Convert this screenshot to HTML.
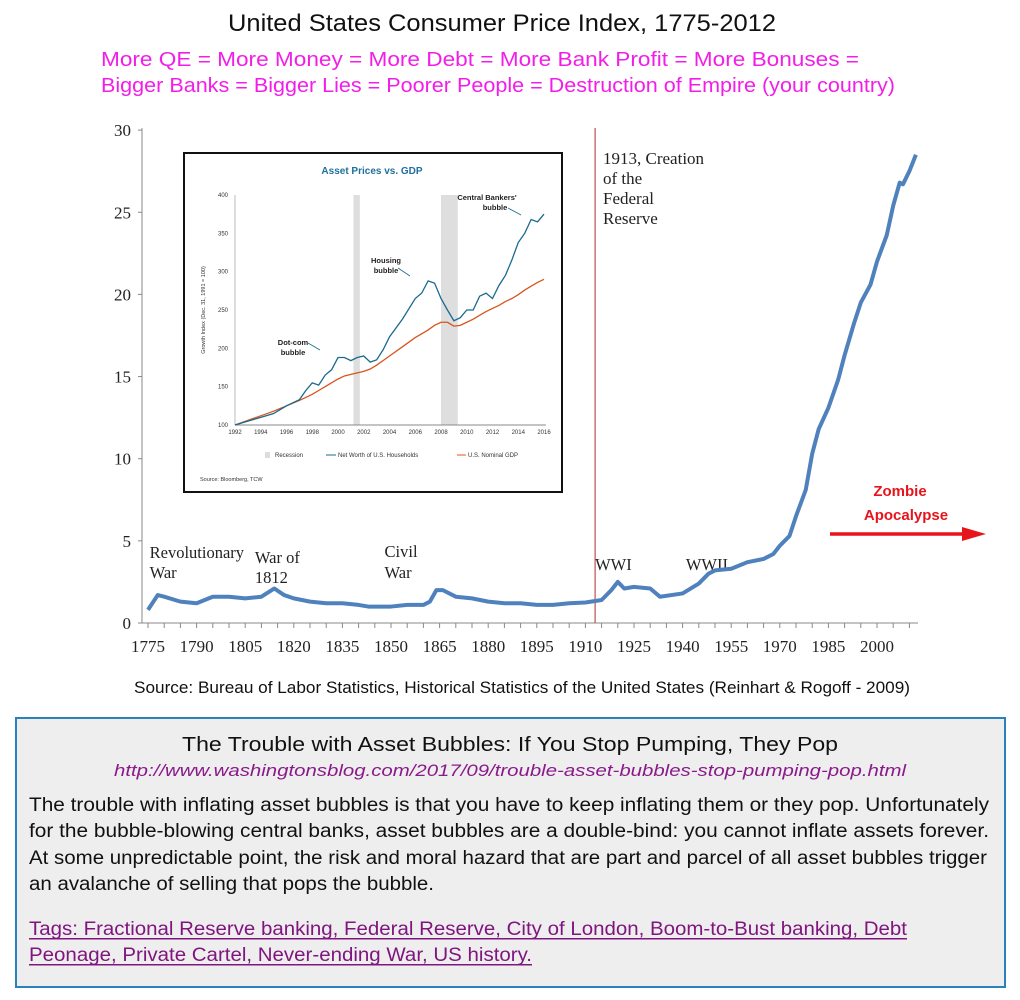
<!DOCTYPE html>
<html><head><meta charset="utf-8"><style>
html,body{margin:0;padding:0;background:#fff;}
svg{display:block;}
</style></head><body>
<svg id="root" width="1020" height="1000" xmlns="http://www.w3.org/2000/svg">
<rect x="0" y="0" width="1020" height="1000" fill="#fff"/>
<text x="502" y="31" text-anchor="middle" font-family="Liberation Sans, sans-serif" font-size="24" fill="#111" textLength="548" lengthAdjust="spacingAndGlyphs">United States Consumer Price Index, 1775-2012</text>
<text x="480" y="66" text-anchor="middle" font-family="Liberation Sans, sans-serif" font-size="20" fill="#f21ee8" textLength="758" lengthAdjust="spacingAndGlyphs">More QE = More Money = More Debt = More Bank Profit = More Bonuses =</text>
<text x="498" y="92" text-anchor="middle" font-family="Liberation Sans, sans-serif" font-size="20" fill="#f21ee8" textLength="794" lengthAdjust="spacingAndGlyphs">Bigger Banks = Bigger Lies = Poorer People = Destruction of Empire (your country)</text>

<g id="main"></g>

<g id="inset"></g>

<text x="522" y="693" text-anchor="middle" font-family="Liberation Sans, sans-serif" font-size="17" fill="#111" textLength="776" lengthAdjust="spacingAndGlyphs">Source: Bureau of Labor Statistics, Historical Statistics of the United States (Reinhart &amp; Rogoff - 2009)</text>

<g>
<rect x="16" y="718" width="989" height="269" fill="#eeeeee" stroke="#2a82bd" stroke-width="2"/>
<text x="510" y="751" text-anchor="middle" font-family="Liberation Sans, sans-serif" font-size="20" fill="#111" textLength="656" lengthAdjust="spacingAndGlyphs">The Trouble with Asset Bubbles: If You Stop Pumping, They Pop</text>
<text x="510" y="776" text-anchor="middle" font-family="Liberation Sans, sans-serif" font-size="17" font-style="italic" fill="#8a1a8a" textLength="792" lengthAdjust="spacingAndGlyphs">http://www.washingtonsblog.com/2017/09/trouble-asset-bubbles-stop-pumping-pop.html</text>
<g font-family="Liberation Sans, sans-serif" font-size="19" fill="#111">
<text x="29" y="811" textLength="960" lengthAdjust="spacingAndGlyphs">The trouble with inflating asset bubbles is that you have to keep inflating them or they pop. Unfortunately</text>
<text x="29" y="837" textLength="960" lengthAdjust="spacingAndGlyphs">for the bubble-blowing central banks, asset bubbles are a double-bind: you cannot inflate assets forever.</text>
<text x="29" y="864" textLength="958" lengthAdjust="spacingAndGlyphs">At some unpredictable point, the risk and moral hazard that are part and parcel of all asset bubbles trigger</text>
<text x="29" y="890" textLength="405" lengthAdjust="spacingAndGlyphs">an avalanche of selling that pops the bubble.</text>
</g>
<g font-family="Liberation Sans, sans-serif" font-size="19" fill="#80157f">
<text x="29" y="935" textLength="878" lengthAdjust="spacingAndGlyphs">Tags: Fractional Reserve banking, Federal Reserve, City of London, Boom-to-Bust banking, Debt</text>
<rect x="29" y="938" width="878" height="1.5" fill="#80157f"/>
<text x="29" y="961" textLength="503" lengthAdjust="spacingAndGlyphs">Peonage, Private Cartel, Never-ending War, US history.</text>
<rect x="29" y="964" width="503" height="1.5" fill="#80157f"/>
</g>
</g>
</svg>
<script>
// ---- Main CPI chart data ----
const cpiYears = [1775,1778,1780,1785,1790,1795,1800,1805,1810,1814,1817,1820,1825,1830,1835,1840,1843,1850,1855,1860,1862,1864,1866,1870,1875,1880,1885,1890,1895,1900,1905,1910,1915,1918,1920,1922,1925,1930,1933,1940,1945,1948,1950,1955,1960,1965,1968,1970,1973,1975,1978,1980,1982,1985,1988,1990,1993,1995,1998,2000,2003,2005,2007,2008,2010,2012];
const cpiValues = [0.8,1.7,1.6,1.3,1.2,1.6,1.6,1.5,1.6,2.1,1.7,1.5,1.3,1.2,1.2,1.1,1.0,1.0,1.1,1.1,1.3,2.0,2.0,1.6,1.5,1.3,1.2,1.2,1.1,1.1,1.2,1.25,1.4,2.0,2.5,2.1,2.2,2.1,1.6,1.8,2.4,3.0,3.2,3.3,3.7,3.9,4.2,4.7,5.3,6.5,8.1,10.3,11.8,13.1,14.8,16.3,18.3,19.5,20.6,22.0,23.6,25.4,26.8,26.7,27.5,28.5];
const yTicks = [0,5,10,15,20,25,30];
const xTickLabels = [1775,1790,1805,1820,1835,1850,1865,1880,1895,1910,1925,1940,1955,1970,1985,2000];
const annotations = [["Revolutionary",1775.5,558],["War",1775.5,578],["War of",1808,563],["1812",1808,583],["Civil",1848,557],["War",1848,578],["WWI",1913,570],["WWII",1941,570]];

// ---- Inset data ----
const insetYears = [1992,1993,1994,1995,1996,1997,1997.5,1998,1998.5,1999,1999.5,2000,2000.5,2001,2001.5,2002,2002.5,2003,2003.5,2004,2005,2006,2006.5,2007,2007.5,2008,2008.5,2009,2009.5,2010,2010.5,2011,2011.5,2012,2012.5,2013,2013.5,2014,2014.5,2015,2015.5,2016];
const netWorth = [100,105,110,115,125,133,145,155,152,165,172,188,188,184,188,190,182,185,198,215,238,265,272,288,285,265,250,236,240,250,250,268,272,265,282,295,315,338,350,368,365,375];
const gdp = [100,106,112,118,125,132,136,140,145,150,155,160,164,166,168,170,173,178,184,190,202,214,219,224,230,234,234,229,230,234,238,243,248,252,256,261,265,270,276,281,286,290];
const insetYTicks = [100,150,200,250,300,350,400];
const insetXTicks = [1992,1994,1996,1998,2000,2002,2004,2006,2008,2010,2012,2014,2016];
const recessions = [[2001.2,2001.7],[2008.0,2009.3]];

const NS="http://www.w3.org/2000/svg";
function mk(tag, attrs, parent, text){const e=document.createElementNS(NS,tag);for(const k in attrs)e.setAttribute(k,attrs[k]);if(text!==undefined)e.textContent=text;parent.appendChild(e);return e;}

const X = y => 148 + (y-1775)*3.24;
const Y = v => 623 - v*16.43;
const g = document.getElementById('main');
let ax = mk('line',{x1:142,y1:Y(30)-2,x2:142,y2:Y(0),stroke:'#888','stroke-width':1},g);


let bx = mk('line',{x1:142,y1:Y(0),x2:918,y2:Y(0),stroke:'#888','stroke-width':1},g);


yTicks.forEach(v=>{
  mk('line',{x1:138,y1:Y(v),x2:142,y2:Y(v),stroke:'#888'},g);
  const t=mk('text',{x:131,y:Y(v)+6,'text-anchor':'end','font-family':'Liberation Serif, serif','font-size':17,fill:'#222'},g,String(v));
  
  
});
for(let yr=1775; yr<=2012; yr+=5){ mk('line',{x1:X(yr),y1:Y(0),x2:X(yr),y2:Y(0)+5,stroke:'#888'},g); }
xTickLabels.forEach(yr=>{
  const t=mk('text',{x:X(yr),y:652,'text-anchor':'middle','font-family':'Liberation Serif, serif','font-size':17,fill:'#222'},g,String(yr));
  
  
});
const fed = mk('line',{x1:X(1913),y1:128,x2:X(1913),y2:Y(0),stroke:'#c0504d','stroke-width':1.2},g);


["1913, Creation","of the","Federal","Reserve"].forEach((s,i)=>{
  const t=mk('text',{x:603,y:164+i*20,'font-family':'Liberation Serif, serif','font-size':17,fill:'#222'},g,s);
  
  
});
annotations.forEach(a=>{
  const t=mk('text',{x:X(a[1]),y:a[2],'font-family':'Liberation Serif, serif','font-size':16.5,fill:'#222'},g,a[0]);
  
  
});
const cpiLine = mk('polyline',{points:cpiYears.map((yr,i)=>X(yr)+','+Y(cpiValues[i])).join(' '),fill:'none',stroke:'#4f81bd','stroke-width':4,'stroke-linejoin':'round'},g);


const z1=mk('text',{x:900,y:496,'text-anchor':'middle','font-family':'Liberation Sans, sans-serif','font-size':15,'font-weight':'bold',fill:'#e8141c'},g,'Zombie');


const z2=mk('text',{x:906,y:520,'text-anchor':'middle','font-family':'Liberation Sans, sans-serif','font-size':15,'font-weight':'bold',fill:'#e8141c'},g,'Apocalypse');


const arr=mk('g',{},g);


mk('line',{x1:830,y1:534,x2:965,y2:534,stroke:'#e8141c','stroke-width':3.5},arr);
mk('polygon',{points:'986,534 962,527 962,541',fill:'#e8141c'},arr);

const ig = document.getElementById('inset');
const box = mk('rect',{x:184,y:153,width:378,height:339,fill:'#fff',stroke:'#111','stroke-width':2},ig);


const IX = yr => 235 + (yr-1992)*(309/24);
const IY = v => 425 - (v-100)*(230/300);
const it=mk('text',{x:372,y:174,'text-anchor':'middle','font-family':'Liberation Sans, sans-serif','font-size':10,'font-weight':'bold',fill:'#1f6f9f'},ig,'Asset Prices vs. GDP');


recessions.forEach(r=>{
  const rc=mk('rect',{x:IX(r[0]),y:IY(400),width:IX(r[1])-IX(r[0]),height:IY(100)-IY(400),fill:'#dedede'},ig);
  
  
});
mk('line',{x1:235,y1:IY(400),x2:235,y2:IY(100),stroke:'#bbb'},ig);
mk('line',{x1:235,y1:IY(100),x2:546,y2:IY(100),stroke:'#888'},ig);
insetYTicks.forEach(v=>{
  const t=mk('text',{x:228,y:IY(v)+2,'text-anchor':'end','font-family':'Liberation Sans, sans-serif','font-size':6,fill:'#333'},ig,String(v));
  
  
});
insetXTicks.forEach(yr=>{
  const t=mk('text',{x:IX(yr),y:IY(100)+9,'text-anchor':'middle','font-family':'Liberation Sans, sans-serif','font-size':6,fill:'#333'},ig,String(yr));
  
  
});
const yl=mk('text',{x:0,y:0,transform:'translate(205,310) rotate(-90)','text-anchor':'middle','font-family':'Liberation Sans, sans-serif','font-size':5.5,fill:'#333'},ig,'Growth Index (Dec. 31, 1991 = 100)');


const gl=mk('polyline',{points:insetYears.map((yr,i)=>IX(yr)+','+IY(gdp[i])).join(' '),fill:'none',stroke:'#d9541e','stroke-width':1.3},ig);


const nl=mk('polyline',{points:insetYears.map((yr,i)=>IX(yr)+','+IY(netWorth[i])).join(' '),fill:'none',stroke:'#1a6a8f','stroke-width':1.3},ig);


[["Dot-com",293,345],["bubble",293,355],["Housing",386,263],["bubble",386,273],["Central Bankers'",487,200],["bubble",495,210]].forEach(a=>{
  const t=mk('text',{x:a[1],y:a[2],'text-anchor':'middle','font-family':'Liberation Sans, sans-serif','font-size':7.5,'font-weight':'bold',fill:'#222'},ig,a[0]);
  
  
});
[[308,343,320,350],[398,268,410,276],[508,208,521,215]].forEach(a=>{mk('line',{x1:a[0],y1:a[1],x2:a[2],y2:a[3],stroke:'#1a6a8f','stroke-width':0.8},ig);});
const lg=mk('g',{'font-family':'Liberation Sans, sans-serif','font-size':6,fill:'#333'},ig);


mk('rect',{x:265,y:452,width:5,height:6,fill:'#ddd'},lg);
mk('text',{x:275,y:457},lg,'Recession');
mk('line',{x1:326,y1:455,x2:336,y2:455,stroke:'#1a6a8f'},lg);
mk('text',{x:338,y:457},lg,'Net Worth of U.S. Households');
mk('line',{x1:457,y1:455,x2:466,y2:455,stroke:'#d9541e'},lg);
mk('text',{x:468,y:457},lg,'U.S. Nominal GDP');
mk('text',{x:200,y:481,'font-size':5.5},lg,'Source: Bloomberg, TCW');
</script>
</body></html>
